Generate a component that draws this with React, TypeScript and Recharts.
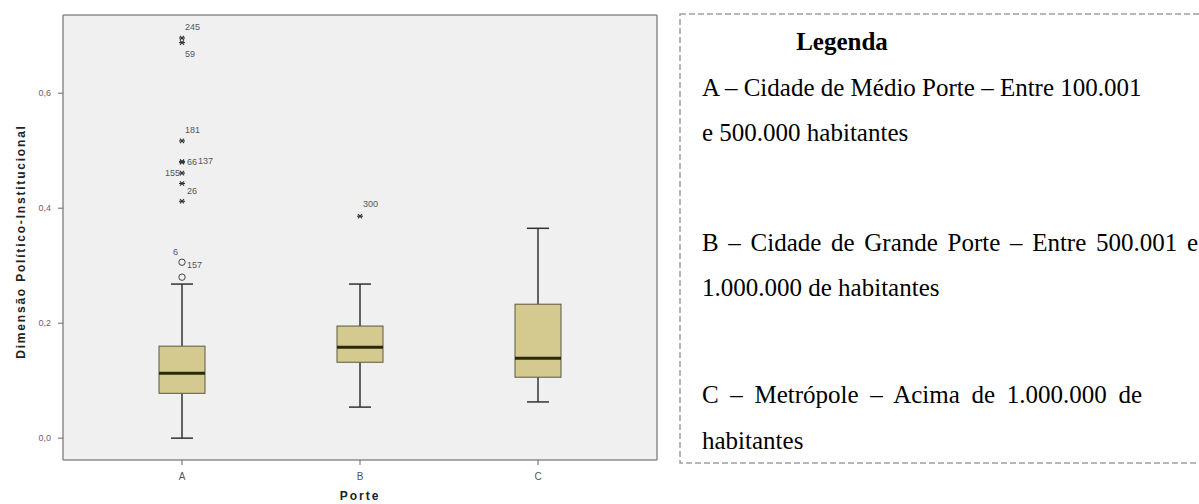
import React from 'react';
import { ComposedChart, Bar, Scatter, XAxis, YAxis, CartesianGrid } from 'recharts';

// box plot summary per "Porte"
const categories = ['A', 'B', 'C'];
const whiskerLow = [0.0, 0.054, 0.063];
const q1 = [0.078, 0.132, 0.106];
const median = [0.113, 0.158, 0.139];
const q3 = [0.16, 0.195, 0.233];
const whiskerHigh = [0.268, 0.268, 0.365];

// outliers ('*' extreme, 'o' mild) and case numbers
const outlierCategory = ['A', 'A', 'A', 'A', 'A', 'A', 'A', 'A', 'A', 'A', 'B'];
const outlierValue = [0.696, 0.688, 0.517, 0.481, 0.48, 0.461, 0.443, 0.412, 0.306, 0.28, 0.386];
const outlierCase = ['245', '59', '181', '66', '137', '155', '', '26', '6', '157', '300'];
const outlierKind = ['*', '*', '*', '*', '*', '*', '*', '*', 'o', 'o', '*'];

const yTicks = [0, 0.2, 0.4, 0.6];

const legendTitle = 'Legenda';
const legendLines = [
  'A – Cidade de Médio Porte – Entre 100.001',
  'e 500.000 habitantes',
  'B – Cidade de Grande Porte – Entre 500.001 e',
  '1.000.000 de habitantes',
  'C – Metrópole – Acima de 1.000.000 de',
  'habitantes',
];

// label placement next to each outlier marker [dx, dy, anchor]
const labelOffset: [number, number, string][] = [
  [3, -11, 'start'], [3, 11, 'start'], [3, -11, 'start'], [5, 0, 'start'], [16, -1, 'start'],
  [-2, 0, 'end'], [0, 0, 'start'], [5, -10, 'start'], [-4, -10, 'end'], [5, -12, 'start'], [3, -12, 'start'],
];

const boxData = categories.map((cat, i) => ({
  cat,
  range: [whiskerLow[i], whiskerHigh[i]],
  lo: whiskerLow[i],
  hi: whiskerHigh[i],
  q1: q1[i],
  median: median[i],
  q3: q3[i],
}));

const outlierData = outlierValue.map((value, i) => ({
  cat: outlierCategory[i],
  value,
  label: outlierCase[i],
  kind: outlierKind[i],
  idx: i,
}));

const BoxShape = (props: any) => {
  const { x, y, width, height, payload } = props;
  const top = Math.min(y, y + height);
  const h = Math.abs(height);
  const toY = (v: number) => top + (h * (payload.hi - v)) / (payload.hi - payload.lo);
  const cx = x + width / 2;
  const cap = 11;
  return (
    <g>
      <line x1={cx} x2={cx} y1={toY(payload.hi)} y2={toY(payload.q3)} stroke="#333" strokeWidth={1.5} />
      <line x1={cx} x2={cx} y1={toY(payload.q1)} y2={toY(payload.lo)} stroke="#333" strokeWidth={1.5} />
      <line x1={cx - cap} x2={cx + cap} y1={toY(payload.hi)} y2={toY(payload.hi)} stroke="#333" strokeWidth={1.5} />
      <line x1={cx - cap} x2={cx + cap} y1={toY(payload.lo)} y2={toY(payload.lo)} stroke="#333" strokeWidth={1.5} />
      <rect
        x={x}
        y={toY(payload.q3)}
        width={width}
        height={toY(payload.q1) - toY(payload.q3)}
        fill="#d4ca8f"
        stroke="#5a5840"
        strokeWidth={1}
      />
      <line x1={x} x2={x + width} y1={toY(payload.median)} y2={toY(payload.median)} stroke="#2a2908" strokeWidth={3} />
    </g>
  );
};

const OutlierShape = (props: any) => {
  const { cx, cy, payload } = props;
  const [dx, dy, anchor] = labelOffset[payload.idx];
  return (
    <g>
      {payload.kind === 'o' ? (
        <circle cx={cx} cy={cy} r={3.2} fill="none" stroke="#444" strokeWidth={1} />
      ) : (
        <g stroke="#333" strokeWidth={1.1}>
          <line x1={cx - 3} x2={cx + 3} y1={cy} y2={cy} />
          <line x1={cx - 2} x2={cx + 2} y1={cy - 2.2} y2={cy + 2.2} />
          <line x1={cx - 2} x2={cx + 2} y1={cy + 2.2} y2={cy - 2.2} />
        </g>
      )}
      {payload.label && (
        <text
          x={cx + dx}
          y={cy + dy}
          textAnchor={anchor as any}
          dominantBaseline="central"
          fontSize={9}
          fill="#555"
          fontFamily="'Liberation Sans', Arial, sans-serif"
        >
          {payload.label}
        </text>
      )}
    </g>
  );
};

const legendBaselines = [96, 141, 251, 296, 403, 449];
const legendWidths = [0, 0, 496, 0, 440, 0];

export default function App() {
  return (
    <div style={{ position: 'absolute', left: 0, top: 0, width: 1199, height: 504, overflow: 'hidden', background: '#fff' }}>
      <div style={{ position: 'absolute', left: 0, top: 0 }}>
        <ComposedChart
          width={680}
          height={504}
          data={boxData}
          margin={{ top: 15, right: 23, bottom: 0, left: 0 }}
        >
          <CartesianGrid
            fill="#f0f0f0"
            stroke="#8c8c8c"
            strokeWidth={1.5}
            horizontalCoordinatesGenerator={({ offset }: any) => [offset.top, offset.top + offset.height]}
            verticalCoordinatesGenerator={({ offset }: any) => [offset.left, offset.left + offset.width]}
          />
          <XAxis
            dataKey="cat"
            type="category"
            allowDuplicatedCategory={false}
            padding={{ left: 30, right: 30 }}
            height={44}
            axisLine={false}
            tickLine={{ stroke: '#666' }}
            tickSize={5}
            tickMargin={8}
            tick={{ fontSize: 10, fill: '#555', fontFamily: "'Liberation Sans', Arial, sans-serif" }}
            label={{
              content: ({ viewBox }: any) => (
                <text
                  x={viewBox.x + viewBox.width / 2}
                  y={500}
                  textAnchor="middle"
                  fontSize={12}
                  fontWeight="bold"
                  letterSpacing={2}
                  fill="#222"
                  fontFamily="'Liberation Sans', Arial, sans-serif"
                >
                  Porte
                </text>
              ),
            }}
          />
          <YAxis
            type="number"
            domain={[-0.038, 0.736]}
            allowDataOverflow
            ticks={yTicks}
            width={63}
            axisLine={false}
            tickLine={{ stroke: '#666' }}
            tickSize={5}
            tickMargin={7}
            tickFormatter={(v: number) => v.toFixed(1).replace('.', ',')}
            tick={{ fontSize: 9, fill: '#666', fontFamily: "'Liberation Sans', Arial, sans-serif" }}
            label={{
              content: ({ viewBox }: any) => {
                const lx = 21;
                const ly = viewBox.y + viewBox.height / 2 + 4;
                return (
                  <text
                    x={lx}
                    y={ly}
                    transform={`rotate(-90, ${lx}, ${ly})`}
                    textAnchor="middle"
                    dominantBaseline="central"
                    fontSize={12}
                    fontWeight="bold"
                    letterSpacing={1.8}
                    fill="#222"
                    fontFamily="'Liberation Sans', Arial, sans-serif"
                  >
                    Dimensão Político-Institucional
                  </text>
                );
              },
            }}
          />
          <Bar dataKey="range" barSize={46} shape={<BoxShape />} isAnimationActive={false} />
          <Scatter data={outlierData} dataKey="value" shape={<OutlierShape />} isAnimationActive={false} />
        </ComposedChart>
      </div>

      <svg width={1199} height={504} style={{ position: 'absolute', left: 0, top: 0, pointerEvents: 'none' }}>
        <rect x={680} y={14} width={560} height={449} fill="none" stroke="#a0a0a0" strokeWidth={1.5} strokeDasharray="6 3" />
      </svg>

      <div
        style={{
          position: 'absolute',
          left: 702,
          top: 50 - 21,
          width: 280,
          textAlign: 'center',
          fontFamily: "'Liberation Serif', 'Times New Roman', serif",
          fontSize: 25,
          lineHeight: '25px',
          fontWeight: 'bold',
          color: '#000',
        }}
      >
        {legendTitle}
      </div>
      {legendLines.map((line, i) => (
        <div
          key={i}
          style={{
            position: 'absolute',
            left: 702,
            top: legendBaselines[i] - 21,
            width: legendWidths[i] || undefined,
            whiteSpace: 'nowrap',
            textAlign: legendWidths[i] ? 'justify' : 'left',
            textAlignLast: legendWidths[i] ? 'justify' : 'auto',
            fontFamily: "'Liberation Serif', 'Times New Roman', serif",
            fontSize: 25,
            lineHeight: '25px',
            color: '#000',
          } as React.CSSProperties}
        >
          {line}
        </div>
      ))}
    </div>
  );
}
